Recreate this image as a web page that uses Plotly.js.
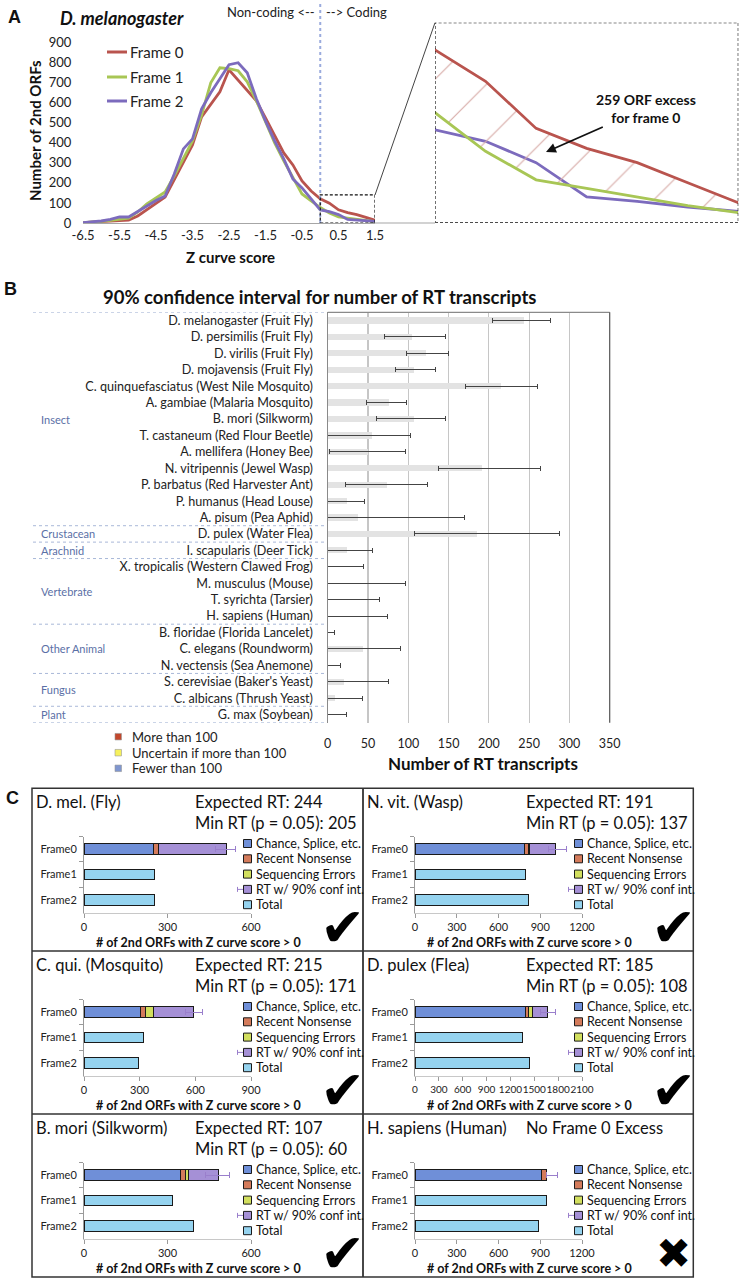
<!DOCTYPE html>
<html><head><meta charset="utf-8">
<script src="https://cdn.plot.ly/plotly-3.0.1.min.js"></script>
<style>html,body{margin:0;padding:0;background:#fff}#chart{width:741px;height:1280px}</style>
</head><body><div id="chart"></div>
<script>
// ---------- Panel A data ----------
const zScore = [-6.5,-6.25,-6,-5.75,-5.5,-5.25,-5,-4.75,-4.5,-4.25,-4,-3.75,-3.5,-3.25,-3,-2.75,-2.5,-2.25,-2,-1.75,-1.5,-1.25,-1,-0.75,-0.5,-0.25,0,0.25,0.5,0.75,1,1.25,1.5];
const frame0 = [2,4,6,9,13,15,35,65,98,130,215,300,390,530,590,655,765,715,665,610,525,440,350,290,210,160,121,99,66,52,42,28,14];
const frame1 = [2,4,8,13,17,24,55,95,125,155,235,320,410,540,700,775,770,760,705,610,505,400,310,230,145,110,77,50,30,24,18,12,7];
const frame2 = [2,6,10,18,30,30,58,88,112,135,245,370,420,570,650,720,790,800,750,620,510,410,320,220,175,120,65,57,42,18,15,11,8];
const frameNames = ['Frame 0','Frame 1','Frame 2'];
const zTickVals = [-6.5,-5.5,-4.5,-3.5,-2.5,-1.5,-0.5,0.5,1.5];
const zTickText = ['-6.5','-5.5','-4.5','-3.5','-2.5','-1.5','-0.5','0.5','1.5'];
const excessText = '259 ORF excess<br>for frame 0';

// ---------- Panel B data ----------
const species = ['D. melanogaster (Fruit Fly)','D. persimilis (Fruit Fly)','D. virilis (Fruit Fly)','D. mojavensis (Fruit Fly)','C. quinquefasciatus (West Nile Mosquito)','A. gambiae (Malaria Mosquito)','B. mori (Silkworm)','T. castaneum (Red Flour Beetle)','A. mellifera (Honey Bee)','N. vitripennis (Jewel Wasp)','P. barbatus (Red Harvester Ant)','P. humanus (Head Louse)','A. pisum (Pea Aphid)','D. pulex (Water Flea)','I. scapularis (Deer Tick)','X. tropicalis (Western Clawed Frog)','M. musculus (Mouse)','T. syrichta (Tarsier)','H. sapiens (Human)','B. floridae (Florida Lancelet)','C. elegans (Roundworm)','N. vectensis (Sea Anemone)',"S. cerevisiae (Baker's Yeast)",'C. albicans (Thrush Yeast)','G. max (Soybean)'];
const rtExpected = [244,105,122,107,215,76,107,55,50,191,74,24,37,185,24,0,0,0,0,0,44,0,20,9,0];
const rtLower    = [205,71,98,84,171,48,60,0,2,137,22,0,0,108,0,0,0,0,0,0,0,0,0,0,0];
const rtUpper    = [276,146,150,134,261,98,146,103,96,264,124,46,170,288,55,45,96,64,74,9,90,16,75,43,23];
const rtStatus   = [0,1,1,1,0,1,1,1,1,0,1,2,1,0,2,2,2,2,2,2,2,2,2,2,2];
const statusNames = ['More than 100','Uncertain if more than 100','Fewer than 100'];
const groupNames = ['Insect','Crustacean','Arachnid','Vertebrate','Other Animal','Fungus','Plant'];
const groupFirst = [0,13,14,15,19,22,24];
const groupLast  = [12,13,14,18,21,23,24];

// ---------- Panel C data ----------
const panelNames = ['D. mel. (Fly)','N. vit. (Wasp)','C. qui. (Mosquito)','D. pulex (Flea)','B. mori (Silkworm)','H. sapiens (Human)'];
const expectedRT = [244,191,215,185,107,null];
const minRT      = [205,137,171,108,60,null];
const chanceVals   = [250,788,303,1390,348,907];
const nonsenseVals = [18,30,27,40,16,36];
const seqErrVals   = [0,4,45,45,11,0];
const rtVals       = [244,191,215,185,107,0];
const rtMinus      = [39,54,44,77,47,0];
const rtPlus       = [32,73,46,103,39,78];
const frame1Total  = [253,795,323,1349,317,947];
const frame2Total  = [255,814,296,1445,393,885];
const axisMax      = [600,1200,900,2100,600,1200];
const verdict      = ['\u2714','\u2714','\u2714','\u2714','\u2714','\u2716'];
const compNames = ['Chance, Splice, etc.','Recent Nonsense','Sequencing Errors','RT w/ 90% conf int.','Total'];
const frameCats = ['Frame0','Frame1','Frame2'];

// ---------- helpers / styles ----------
const W = 741, H = 1280;
const PX = v => v / W, PY = v => 1 - v / H;
const FONT = 'Lato, "Open Sans", sans-serif';
const frameColors = ['#b9544e','#a8c655','#7c6bbd'];
const statusColors = ['#c2472c','#f6f15c','#7f96cf'];
const compColors = ['#6f8fd8','#d47b5b','#d2df5e','#a590d6','#95d3ef'];

const data = [];
const shapes = [];
const annotations = [];
const layout = {
  width: W, height: H, margin: {l:0,r:0,t:0,b:0},
  paper_bgcolor: '#fff', plot_bgcolor: 'rgba(0,0,0,0)',
  font: {family: FONT, color: '#222'}, showlegend: false, barmode: 'stack'
};
function ann(o){ annotations.push(Object.assign({xref:'paper', yref:'paper', showarrow:false, xanchor:'center', yanchor:'middle'}, o)); }

// ================= PANEL A =================
layout.xaxis = {domain:[PX(83),PX(375)], range:[-6.5,1.5], anchor:'y', tickvals:zTickVals, ticktext:zTickText,
  showline:true, linecolor:'#a6a6a6', linewidth:1.2, showgrid:false, zeroline:false, ticks:'', tickfont:{size:13, color:'#222'}};
layout.yaxis = {domain:[PY(223),PY(42.7)], range:[0,900], anchor:'x', dtick:100, showline:false, showgrid:false, zeroline:false,
  ticks:'outside', ticklen:8, tickcolor:'rgba(0,0,0,0)', tickfont:{size:13, color:'#222'}};
const frames = [frame0, frame1, frame2];
for (let i=0;i<3;i++) {
  data.push({type:'scatter', mode:'lines', x:zScore, y:frames[i], xaxis:'x', yaxis:'y',
    line:{color:frameColors[i], width:2.8}, hoverinfo:'skip'});
}
// inset
layout.xaxis2 = {domain:[PX(435),PX(738.3)], range:[0,1.5], anchor:'y2', visible:false};
layout.yaxis2 = {domain:[PY(222.7),PY(22.7)], range:[0,140], anchor:'x2', visible:false};
data.push({type:'scatter', mode:'lines', x:zScore, y:frame2, xaxis:'x2', yaxis:'y2', line:{color:frameColors[2], width:2.8}, hoverinfo:'skip'});
data.push({type:'scatter', mode:'lines', x:zScore, y:frame1, xaxis:'x2', yaxis:'y2', line:{color:frameColors[1], width:2.8}, hoverinfo:'skip'});
data.push({type:'scatter', mode:'lines', x:zScore, y:frame0, xaxis:'x2', yaxis:'y2', line:{color:frameColors[0], width:2.8},
  fill:'tonexty', fillcolor:'rgba(0,0,0,0)',
  fillpattern:{shape:'/', fgcolor:'#d8aca8', bgcolor:'rgba(0,0,0,0)', size:40, solidity:0.03}, hoverinfo:'skip'});

// dotted line at 0
shapes.push({type:'line', xref:'x', yref:'paper', x0:0, x1:0, y0:PY(223), y1:PY(2), line:{color:'#9aabdd', width:2, dash:'dot'}});
// dashed box in main plot
shapes.push({type:'rect', xref:'x', yref:'y', x0:0, x1:1.5, y0:0, y1:140, line:{color:'#111', width:1.2, dash:'3px,2px'}});
// inset box
shapes.push({type:'rect', xref:'x2', yref:'y2', x0:0, x1:1.5, y0:0, y1:140, line:{color:'#111', width:1.2, dash:'3px,2px'}});
// connectors
shapes.push({type:'line', xref:'paper', yref:'paper', x0:PX(375), y0:PY(195), x1:PX(435), y1:PY(22.7), line:{color:'#444', width:1}});
shapes.push({type:'line', xref:'paper', yref:'paper', x0:PX(375), y0:PY(223), x1:PX(435), y1:PY(223), line:{color:'#a6a6a6', width:1.2}});
// legend A
for (let i=0;i<3;i++) {
  const y = [52,77,101][i];
  shapes.push({type:'line', xref:'paper', yref:'paper', x0:PX(107), x1:PX(127), y0:PY(y), y1:PY(y), line:{color:frameColors[i], width:3}});
  ann({x:PX(128), y:PY(y), xanchor:'left', text:frameNames[i], font:{size:15, color:'#222'}});
}
ann({x:PX(14), y:PY(17), text:'<b>A</b>', font:{family:'"Liberation Sans", Arial, sans-serif', size:18, color:'#111'}});
ann({x:PX(122), y:PY(18), text:'<b><i>D. melanogaster</i></b>', font:{size:18, color:'#111'}});
ann({x:PX(317), y:PY(12), xanchor:'right', text:'Non-coding <--', font:{size:13, color:'#222'}});
ann({x:PX(324), y:PY(12), xanchor:'left', text:'--> Coding', font:{size:13, color:'#222'}});
ann({x:PX(35), y:PY(131), textangle:-90, text:'<b>Number of 2nd ORFs</b>', font:{size:15, color:'#111'}});
ann({x:PX(230), y:PY(257), text:'<b>Z curve score</b>', font:{size:15, color:'#111'}});
annotations.push({xref:'paper', yref:'paper', x:PX(546), y:PY(152), ax:100, ay:-44, axref:'pixel', ayref:'pixel',
  showarrow:true, arrowhead:2, arrowsize:1.1, arrowwidth:1.8, arrowcolor:'#111',
  text:'<b>'+excessText+'</b>', font:{size:14, color:'#111'}});

// ================= PANEL B =================
layout.xaxis3 = {domain:[PX(327.7),PX(609.7)], range:[0,350], anchor:'y3', dtick:50, showgrid:true, gridcolor:'#c6c6c6', gridwidth:1.2,
  zeroline:false, showline:false, ticks:'outside', ticklen:9, tickcolor:'rgba(0,0,0,0)', tickfont:{size:12.5, color:'#222'}};
layout.yaxis3 = {domain:[PY(722.7),PY(312.3)], type:'category', categoryorder:'array', categoryarray:species, range:[24.5,-0.5],
  anchor:'x3', showline:true, linecolor:'#8a8a8a', linewidth:1.2, showgrid:false, zeroline:false,
  ticks:'outside', ticklen:11, tickcolor:'rgba(0,0,0,0)', tickfont:{size:12.6, color:'#222'}};
data.push({type:'bar', orientation:'h', x:rtExpected, y:species, xaxis:'x3', yaxis:'y3', width:0.38,
  marker:{color:'#e3e3e3', line:{width:0}},
  error_x:{type:'data', symmetric:false, array:rtUpper.map((u,i)=>u-rtExpected[i]), arrayminus:rtExpected.map((e,i)=>e-rtLower[i]),
    color:'#444', thickness:1, width:2.5}, hoverinfo:'skip'});
data.push({type:'scatter', mode:'markers', x:species.map(()=>-7.5), y:species, xaxis:'x3', yaxis:'y3', cliponaxis:false,
  marker:{symbol:'square', size:6.5, color:rtStatus.map(s=>statusColors[s]), line:{color:'#999', width:0.6}}, hoverinfo:'skip'});
// top & right border
shapes.push({type:'line', xref:'x3 domain', yref:'y3 domain', x0:0, x1:1, y0:1, y1:1, line:{color:'#8a8a8a', width:1.2}});
shapes.push({type:'line', xref:'x3 domain', yref:'y3 domain', x0:1, x1:1, y0:0, y1:1, line:{color:'#555', width:1.2}});
// group separators and labels
const seps = groupFirst.map(f=>f-0.5).concat([groupLast[groupLast.length-1]+0.5]);
seps.forEach(s => shapes.push({type:'line', xref:'paper', yref:'y3', x0:PX(33), x1:PX(326), y0:s, y1:s, line:{color:'#a9b8d8', width:1, dash:'dot'}}));
groupNames.forEach((g,i) => annotations.push({xref:'paper', yref:'y3', x:PX(39), y:(groupFirst[i]+groupLast[i])/2, xanchor:'left', yanchor:'middle', showarrow:false,
  text:g, font:{size:11, color:'#5a6fa6'}}));
ann({x:PX(10), y:PY(289), text:'<b>B</b>', font:{family:'"Liberation Sans", Arial, sans-serif', size:18, color:'#111'}});
ann({x:PX(319), y:PY(297), text:'<b>90% confidence interval for number of RT transcripts</b>', font:{size:18.5, color:'#111'}});
ann({x:PX(483), y:PY(763), text:'<b>Number of RT transcripts</b>', font:{size:17, color:'#111'}});
statusNames.forEach((s,i) => {
  const y = [736.7,752.7,768.3][i];
  shapes.push({type:'rect', xref:'paper', yref:'paper', x0:PX(115), x1:PX(121.5), y0:PY(y-3.25), y1:PY(y+3.25),
    fillcolor:statusColors[i], line:{color:'#999', width:0.6}});
  ann({x:PX(130), y:PY(y), xanchor:'left', text:s, font:{size:13, color:'#222'}});
});

// ================= PANEL C =================
const colLeft = [32,363], rowTop = [788,951,1114];
ann({x:PX(12), y:PY(798), text:'<b>C</b>', font:{family:'"Liberation Sans", Arial, sans-serif', size:18, color:'#111'}});
for (let p=0;p<6;p++) {
  const L = colLeft[p%2], T = rowTop[Math.floor(p/2)];
  const n = p+4, xa = 'x'+n, ya = 'y'+n;
  layout['xaxis'+n] = {domain:[PX(L+52),PX(L+219)], range:[0,axisMax[p]], dtick:300, anchor:ya, showgrid:false, zeroline:false,
    showline:true, linecolor:'#c8c8c8', ticks:'outside', ticklen:4, tickcolor:'#9a9a9a', tickangle:0,
    tickfont:{size:p===3?10:11, color:'#222'}};
  layout['yaxis'+n] = {domain:[PY(T+124.5),PY(T+48.5)], type:'category', categoryorder:'array', categoryarray:frameCats, range:[2.5,-0.5],
    anchor:xa, showline:true, linecolor:'#9a9a9a', showgrid:false, zeroline:false, ticks:'outside', tickson:'boundaries', ticklen:4,
    tickcolor:'#9a9a9a', ticklabelstandoff:4, tickfont:{size:11, color:'#222'}};
  const segs = [chanceVals[p], nonsenseVals[p], seqErrVals[p], rtVals[p]];
  segs.forEach((v,k) => {
    const tr = {type:'bar', orientation:'h', x:[v], y:['Frame0'], xaxis:xa, yaxis:ya, width:0.42,
      marker:{color:compColors[k], line:{color:'#1a1a1a', width:1}}, hoverinfo:'skip'};
    if (k===3) tr.error_x = {type:'data', symmetric:false, array:[rtPlus[p]], arrayminus:[rtMinus[p]], color:'#9a7fcc', thickness:1, width:3};
    data.push(tr);
  });
  data.push({type:'bar', orientation:'h', x:[frame1Total[p], frame2Total[p]], y:['Frame1','Frame2'], xaxis:xa, yaxis:ya, width:0.42,
    marker:{color:compColors[4], line:{color:'#1a1a1a', width:1}}, hoverinfo:'skip'});
  // titles
  ann({x:PX(L+2), y:PY(T+14), xanchor:'left', text:panelNames[p], font:{size:16.5, color:'#111'}});
  if (expectedRT[p] !== null) {
    ann({x:PX(L+161), y:PY(T+14), xanchor:'left', text:'Expected RT: '+expectedRT[p], font:{size:16.5, color:'#111'}});
    ann({x:PX(L+161), y:PY(T+35), xanchor:'left', text:'Min RT (p = 0.05): '+minRT[p], font:{size:16.5, color:'#111'}});
  } else {
    ann({x:PX(L+161), y:PY(T+14), xanchor:'left', text:'No Frame 0 Excess', font:{size:16.5, color:'#111'}});
  }
  ann({x:PX(L+166), y:PY(T+154.5), text:'<b># of 2nd ORFs with Z curve score > 0</b>', font:{size:12.5, color:'#111'}});
  // legend
  compNames.forEach((c,j) => {
    const y = T + 55.5 + 15.3*j, cx = L + 215.5;
    if (j===3) {
      shapes.push({type:'line', xref:'paper', yref:'paper', x0:PX(cx-10), x1:PX(cx), y0:PY(y), y1:PY(y), line:{color:'#9a7fcc', width:1}});
      shapes.push({type:'line', xref:'paper', yref:'paper', x0:PX(cx-10), x1:PX(cx-10), y0:PY(y-2.5), y1:PY(y+2.5), line:{color:'#9a7fcc', width:1}});
    }
    shapes.push({type:'rect', xref:'paper', yref:'paper', x0:PX(cx-4), x1:PX(cx+4), y0:PY(y-4), y1:PY(y+4),
      fillcolor:compColors[j], line:{color:'#1a1a1a', width:1}});
    ann({x:PX(L+222), y:PY(y), xanchor:'left', text:c, font:{size:12.5, color:'#111'}});
  });
  ann({x:PX(L+310), y:PY(T+(p===5?139:139)), text:verdict[p], font:{family:'"DejaVu Sans", sans-serif', size:p===5?42:54, color:'#000'}});
}
// panel C borders
shapes.push({type:'rect', xref:'paper', yref:'paper', x0:PX(32), x1:PX(693.3), y0:PY(1277), y1:PY(788.3), line:{color:'#333', width:1.5}});
shapes.push({type:'line', xref:'paper', yref:'paper', x0:PX(363), x1:PX(363), y0:PY(1277), y1:PY(788.3), line:{color:'#333', width:1.8}});
[951,1114].forEach(y => shapes.push({type:'line', xref:'paper', yref:'paper', x0:PX(32), x1:PX(693.3), y0:PY(y), y1:PY(y), line:{color:'#333', width:1.5}}));

layout.shapes = shapes;
layout.annotations = annotations;
Plotly.newPlot('chart', data, layout, {displayModeBar:false, staticPlot:true});
</script></body></html>
